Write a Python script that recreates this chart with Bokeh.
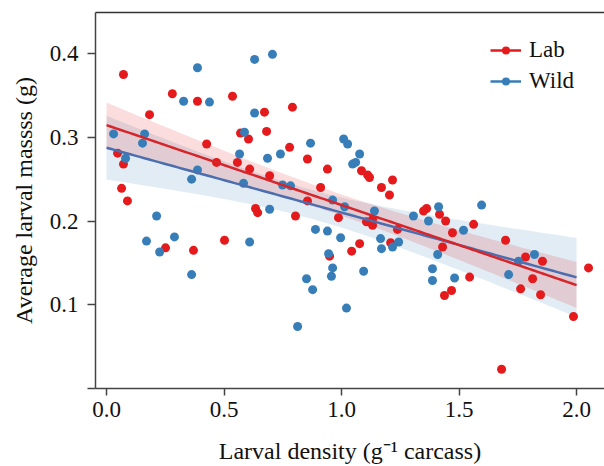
import numpy as np
from bokeh.plotting import figure
from bokeh.models import (Range1d, FixedTicker, Legend, LegendItem, ColumnDataSource,
                          LinearAxis)
from bokeh.embed import file_html
from bokeh.resources import INLINE

# ---------------- data ----------------
lab_x = [0.072, 0.280, 0.387, 0.536, 0.183, 0.672, 0.791, 0.570, 0.681, 0.604,
         0.426, 0.779, 0.047, 0.072, 0.468, 0.557, 0.855, 0.609, 0.694, 0.940,
         0.064, 0.911, 0.089, 0.855, 0.634, 0.643, 0.804, 0.987, 0.251, 0.370,
         0.502, 0.949, 1.043, 1.085, 1.111, 1.119, 1.170, 1.217, 1.204, 1.362,
         1.349, 1.106, 1.132, 1.132, 1.077, 1.209, 1.238, 1.417, 1.443, 1.472,
         1.562, 1.430, 1.545, 1.438, 1.468, 1.698, 1.783, 1.855, 1.813, 1.762,
         1.847, 2.051, 1.987, 1.681]
lab_y = [0.375, 0.352, 0.343, 0.349, 0.327, 0.330, 0.336, 0.305, 0.307, 0.298,
         0.292, 0.288, 0.281, 0.268, 0.270, 0.270, 0.274, 0.262, 0.254, 0.262,
         0.239, 0.240, 0.224, 0.224, 0.215, 0.210, 0.206, 0.204, 0.168, 0.165,
         0.177, 0.158, 0.164, 0.260, 0.255, 0.252, 0.240, 0.249, 0.231, 0.215,
         0.212, 0.199, 0.202, 0.195, 0.173, 0.174, 0.190, 0.208, 0.200, 0.186,
         0.196, 0.169, 0.133, 0.111, 0.117, 0.177, 0.157, 0.152, 0.131, 0.119,
         0.112, 0.144, 0.086, 0.023]

wild_x = [0.387, 0.630, 0.706, 0.328, 0.438, 0.630, 0.030, 0.162, 0.153, 0.587,
          0.868, 1.009, 1.026, 0.566, 0.685, 0.740, 0.081, 1.047, 1.060, 1.077,
          0.387, 0.362, 0.583, 0.749, 0.783, 0.962, 1.013, 0.694, 1.413, 1.596,
          1.140, 0.213, 0.170, 0.226, 0.289, 0.609, 0.362, 0.889, 0.940, 0.996,
          0.945, 0.962, 0.957, 0.851, 0.877, 0.813, 1.021, 1.306, 1.370, 1.166,
          1.170, 1.217, 1.243, 1.094, 1.409, 1.387, 1.387, 1.481, 1.519, 1.753,
          1.821, 1.711]
wild_y = [0.383, 0.393, 0.399, 0.343, 0.342, 0.329, 0.304, 0.304, 0.293, 0.306,
          0.293, 0.298, 0.292, 0.280, 0.275, 0.280, 0.275, 0.268, 0.270, 0.280,
          0.261, 0.250, 0.245, 0.243, 0.242, 0.225, 0.217, 0.214, 0.217, 0.219,
          0.212, 0.206, 0.176, 0.163, 0.181, 0.175, 0.136, 0.190, 0.188, 0.180,
          0.161, 0.144, 0.134, 0.131, 0.118, 0.074, 0.096, 0.206, 0.200, 0.179,
          0.167, 0.169, 0.175, 0.140, 0.160, 0.143, 0.129, 0.132, 0.189, 0.152,
          0.160, 0.136]

x_ticks = [0.0, 0.5, 1.0, 1.5, 2.0]
x_tick_labels = ["0.0", "0.5", "1.0", "1.5", "2.0"]
y_ticks = [0.0, 0.1, 0.2, 0.3, 0.4]
y_tick_labels = ["", "0.1", "0.2", "0.3", "0.4"]
fit_span = [0.0, 2.0]
series_names = ["Lab", "Wild"]

# ---------------- style ----------------
FONT = "Liberation Serif"
RED, BLUE = "#e41a1c", "#377eb8"
RED_LINE, BLUE_LINE = "#d7262b", "#4c6eae"
SPINE = "#444444"


def fit_with_ci(x, y, grid):
    x = np.asarray(x, float)
    y = np.asarray(y, float)
    n = len(x)
    b, a = np.polyfit(x, y, 1)
    pred = a + b * grid
    resid = y - (a + b * x)
    s = np.sqrt(np.sum(resid ** 2) / (n - 2))
    xm = x.mean()
    sxx = np.sum((x - xm) ** 2)
    se = s * np.sqrt(1.0 / n + (grid - xm) ** 2 / sxx)
    t = 2.0
    return pred, pred - t * se, pred + t * se


grid = np.linspace(fit_span[0], fit_span[1], 100)
lab_fit, lab_lo, lab_hi = fit_with_ci(lab_x, lab_y, grid)
wild_fit, wild_lo, wild_hi = fit_with_ci(wild_x, wild_y, grid)

p = figure(width=604, height=466, output_backend="svg", toolbar_location=None,
           x_range=Range1d(-0.047, 2.119), y_range=Range1d(0.0, 0.449),
           min_border_left=95, min_border_right=0, min_border_top=12,
           min_border_bottom=77)
p.outline_line_color = None
p.xgrid.visible = False
p.ygrid.visible = False
p.background_fill_color = "white"

xb = p.below[0]
yl = p.left[0]

# confidence bands
p.varea(x=grid, y1=wild_lo, y2=wild_hi, fill_color=BLUE, fill_alpha=0.15)
p.varea(x=grid, y1=lab_lo, y2=lab_hi, fill_color=RED, fill_alpha=0.15)

# points
p.scatter(x=lab_x, y=lab_y, size=9, fill_color=RED, line_color=None)
p.scatter(x=wild_x, y=wild_y, size=9, fill_color=BLUE, line_color=None)

# regression lines
p.line(x=grid, y=wild_fit, line_color=BLUE_LINE, line_width=2.5)
p.line(x=grid, y=lab_fit, line_color=RED_LINE, line_width=2.5)

# legend proxies (a single NaN row: nothing drawn in the plot)
proxy = ColumnDataSource(data=dict(x=[float("nan")], y=[float("nan")]))
lab_l = p.line("x", "y", source=proxy, line_color=RED, line_width=2.5)
lab_s = p.scatter("x", "y", source=proxy, size=9, fill_color=RED, line_color=None)
wild_l = p.line("x", "y", source=proxy, line_color=BLUE, line_width=2.5)
wild_s = p.scatter("x", "y", source=proxy, size=9, fill_color=BLUE, line_color=None)
legend = Legend(items=[LegendItem(label=series_names[0], renderers=[lab_l, lab_s]),
                       LegendItem(label=series_names[1], renderers=[wild_l, wild_s])],
                location=(395, 294), padding=0, margin=0, spacing=5,
                glyph_width=31, glyph_height=20, label_standoff=8, label_height=20,
                label_text_font=FONT, label_text_font_size="23px",
                label_text_color="#111111",
                background_fill_alpha=0, border_line_color=None)
p.add_layout(legend, "center")

# axes
for ax in (xb, yl):
    ax.axis_line_color = SPINE
    ax.axis_line_width = 1.5
    ax.major_tick_line_color = SPINE
    ax.major_tick_line_width = 1.5
    ax.major_tick_in = 0
    ax.minor_tick_line_color = None
    ax.major_label_text_font = FONT
    ax.major_label_text_font_size = "23px"
    ax.major_label_text_color = "#111111"
    ax.axis_label_text_font = FONT
    ax.axis_label_text_font_size = "24px"
    ax.axis_label_text_font_style = "normal"
    ax.axis_label_text_color = "#111111"

xb.ticker = FixedTicker(ticks=x_ticks)
xb.major_label_overrides = dict(zip(x_ticks, x_tick_labels))
xb.major_tick_out = 7
xb.major_label_standoff = 6
xb.axis_label = "Larval density (g\u207b\u00b9 carcass)"
xb.axis_label_standoff = 18

yl.ticker = FixedTicker(ticks=y_ticks)
yl.major_label_overrides = dict(zip(y_ticks, y_tick_labels))
yl.major_tick_out = 8
yl.major_label_standoff = 9
yl.axis_label = "Average larval massss (g)"
yl.axis_label_standoff = 10

# top border of the frame: a bare axis above
top = LinearAxis(ticker=FixedTicker(ticks=[]), axis_line_color="#333333",
                 axis_line_width=1.5, major_tick_out=0, major_tick_in=0,
                 minor_tick_out=0, minor_tick_in=0, major_label_standoff=0,
                 major_label_text_font_size="0px", minor_tick_line_color=None,
                 major_tick_line_color=None)
p.add_layout(top, "above")

open("out.html", "w").write(file_html(p, INLINE))
